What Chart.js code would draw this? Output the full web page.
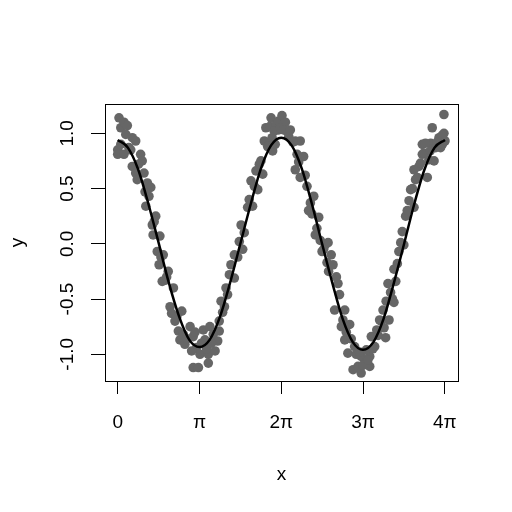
<!DOCTYPE html>
<html><head><meta charset="utf-8">
<script src="https://cdn.jsdelivr.net/npm/chart.js@4.4.1/dist/chart.umd.min.js"></script>
<style>html,body{margin:0;padding:0;background:#fff}canvas{display:block}</style>
</head><body>
<canvas id="c" width="512" height="512"></canvas>
<script>
const pointX = [0.00,0.00,0.05,0.12,0.12,0.24,0.24,0.37,0.43,0.56,0.56,0.69,0.69,0.75,0.88,0.94,1.01,1.08,1.14,1.20,1.27,1.33,1.36,1.46,1.52,1.59,1.62,1.71,
1.75,1.82,1.94,2.01,2.07,2.14,2.20,2.39,2.46,2.58,2.78,2.90,2.90,3.03,3.10,3.16,3.29,3.35,3.48,3.48,3.54,3.74,
3.84,3.90,3.90,3.97,4.03,4.16,4.29,4.35,4.48,4.48,4.67,4.74,4.80,4.99,5.12,5.18,5.25,5.31,5.38,5.44,5.57,5.63,5.69,5.82,5.84,5.89,5.93,5.95,
6.05,6.09,6.18,6.18,6.31,6.44,6.50,6.82,6.82,6.89,7.01,7.01,7.14,7.27,7.33,7.46,7.53,7.59,7.65,7.72,7.85,7.97,8.04,8.08,8.10,
8.20,8.27,8.33,8.46,8.52,8.59,8.72,8.72,8.84,8.91,9.04,9.10,9.23,9.35,9.35,9.49,9.68,9.68,9.74,9.87,9.95,10.06,10.19,10.23,10.29,10.31,10.38,
10.42,10.48,10.61,10.61,10.68,10.80,10.93,10.99,11.06,11.19,11.25,11.38,11.38,11.44,11.57,11.70,11.70,11.89,11.95,12.02,12.08,12.15,12.21,12.34,12.40,12.53,12.53,12.57,
0.31,0.50,0.80,1.05,1.40,1.66,1.88,2.27,2.33,2.52,2.65,2.84,2.97,3.22,3.41,3.60,3.67,4.10,4.22,4.61,4.86,5.05,5.50,5.76,6.01,6.24,6.37,6.57,6.63,6.73,
6.95,7.20,7.40,7.78,7.91,8.40,8.65,8.78,8.97,9.16,9.29,9.42,9.55,9.61,9.80,10.00,10.12,10.55,10.74,10.87,11.12,11.32,11.51,11.63,11.76,11.82,12.00,12.27,12.46,12.47];
const pointY = [0.85,0.81,1.14,1.05,0.90,0.81,1.10,1.07,0.87,0.96,0.70,0.93,0.64,0.58,0.81,0.75,0.64,0.34,0.55,0.43,0.51,0.17,0.08,0.25,-0.07,-0.19,0.07,-0.34,
-0.10,-0.33,-0.25,-0.57,-0.63,-0.40,-0.70,-0.87,-0.61,-0.91,-0.75,-0.84,-1.12,-0.94,-1.12,-1.00,-0.78,-0.87,-1.00,-1.08,-0.75,-0.97,
-0.88,-0.79,-0.70,-0.52,-0.62,-0.40,-0.28,-0.19,-0.31,-0.10,0.02,0.17,-0.05,0.33,0.57,0.34,0.52,0.66,0.49,0.72,0.63,0.93,1.05,0.90,1.06,1.14,0.96,0.84,
0.90,1.08,1.11,1.03,1.16,1.10,1.02,0.93,0.67,0.81,0.93,0.60,0.79,0.52,0.30,0.27,0.43,0.08,0.14,0.24,-0.07,-0.01,-0.17,0.01,-0.25,
-0.10,-0.19,-0.60,-0.36,-0.46,-0.75,-0.60,-0.87,-0.99,-0.73,-1.14,-0.93,-1.11,-1.02,-1.17,-1.08,-1.11,-1.02,-0.84,-0.93,-0.78,-0.69,-0.60,-0.76,-0.85,-0.52,-0.36,
-0.69,-0.44,-0.53,-0.23,-0.34,-0.07,0.11,-0.01,0.25,0.39,0.49,0.33,0.67,0.58,0.70,0.81,0.90,0.60,0.76,0.91,1.05,0.75,0.87,0.96,0.87,1.00,1.17,0.93,
0.99,0.85,0.72,0.47,0.20,-0.12,-0.30,-0.66,-0.79,-0.82,-0.86,-0.97,-0.80,-0.90,-0.95,-0.90,-0.82,-0.57,-0.46,-0.12,0.10,0.40,0.75,0.88,1.02,1.05,1.03,0.97,1.03,0.92,
0.74,0.62,0.37,0.03,-0.05,-0.30,-0.69,-0.80,-0.86,-1.00,-0.98,-1.10,-0.96,-1.05,-0.95,-0.83,-0.70,-0.50,-0.18,0.01,0.30,0.50,0.60,0.73,0.82,0.91,0.84,0.92,0.98,0.90];
const fitX = [0,0.39,0.79,1.18,1.57,1.96,2.36,2.75,3.14,3.53,3.93,4.32,4.71,5.11,5.50,5.89,6.28,6.68,7.07,7.46,7.85,8.25,8.64,9.03,9.42,9.82,10.21,10.60,11.00,11.39,11.78,12.17,12.57];
const fitY = [0.94,0.87,0.67,0.36,0.01,-0.35,-0.66,-0.87,-0.935,-0.87,-0.66,-0.35,0.0,0.36,0.68,0.89,0.96,0.89,0.68,0.36,0.0,-0.36,-0.68,-0.89,-0.96,-0.89,-0.68,-0.36,0.0,0.36,0.67,0.87,0.94];
const xTickValues = [0, Math.PI, 2*Math.PI, 3*Math.PI, 4*Math.PI];
const xTickLabels = ['0','π','2π','3π','4π'];
const yTickValues = [-1,-0.5,0,0.5,1];
const yTickLabels = ['-1.0','-0.5','0.0','0.5','1.0'];

const FONT = {family: "'Liberation Sans', Arial, Helvetica, sans-serif", size: 19};
const boxPlugin = {
  id: 'box',
  afterDraw(chart) {
    const {ctx, chartArea: a} = chart;
    ctx.save();
    ctx.strokeStyle = '#000';
    ctx.lineWidth = 1;
    ctx.strokeRect(Math.round(a.left)+0.5, Math.round(a.top)+0.5, Math.round(a.right-a.left), Math.round(a.bottom-a.top));
    ctx.restore();
  }
};

new Chart(document.getElementById('c'), {
  type: 'scatter',
  data: {
    datasets: [
      {data: fitX.map((x,i)=>({x, y: fitY[i]})), showLine: true, borderColor: '#000', borderWidth: 2.5,
       pointRadius: 0, cubicInterpolationMode: 'monotone', order: 0, clip: false},
      {data: pointX.map((x,i)=>({x, y: pointY[i]})), backgroundColor: '#666666', borderWidth: 0,
       pointRadius: 4.8, order: 1, clip: false}
    ]
  },
  options: {
    responsive: false, animation: false, devicePixelRatio: 1,
    layout: {padding: {left: 0, right: 54, top: 104, bottom: 0}},
    plugins: {legend: {display: false}, tooltip: {enabled: false}},
    scales: {
      x: {
        type: 'linear', min: -0.488, max: 13.07,
        afterBuildTicks: s => { s.ticks = xTickValues.map(v => ({value: v})); },
        afterFit: s => { s.height = 131; },
        border: {display: false},
        grid: {drawOnChartArea: false, drawTicks: true, tickLength: 13, color: '#000', lineWidth: 1},
        ticks: {color: '#000', font: FONT, padding: 17, maxRotation: 0, autoSkip: false,
                callback: (v, i) => xTickLabels[i]},
        title: {display: true, text: 'x', color: '#000', font: FONT, padding: {top: 0, bottom: 26}}
      },
      y: {
        type: 'linear', min: -1.242, max: 1.265,
        afterBuildTicks: s => { s.ticks = yTickValues.map(v => ({value: v})); },
        afterFit: s => { s.width = 105; },
        border: {display: false},
        grid: {drawOnChartArea: false, drawTicks: true, tickLength: 14, color: '#000', lineWidth: 1},
        ticks: {color: '#000', font: FONT, padding: 6.5, minRotation: 90, maxRotation: 90, crossAlign: 'center', autoSkip: false,
                callback: (v, i) => yTickLabels[i]},
        title: {display: true, text: 'y', color: '#000', font: FONT, padding: {top: 6.5, bottom: 0}}
      }
    }
  },
  plugins: [boxPlugin]
});
</script>
</body></html>
